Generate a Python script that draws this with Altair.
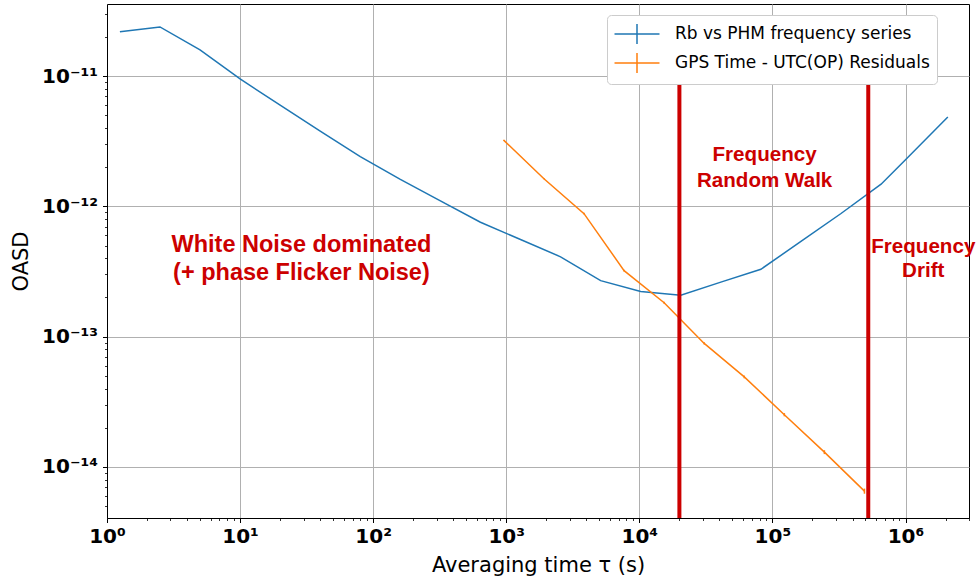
import json
import altair as alt
import pandas as pd

# ---------------- data ----------------
blue_name = "Rb vs PHM frequency series"
orange_name = "GPS Time - UTC(OP) Residuals"

blue_tau = [1.25, 2.5, 5, 10, 20, 40, 80, 160, 320, 640, 1280, 2560, 5120,
            10240, 20480, 40960, 81920, 163840, 327680, 655360, 1.0e6, 2.08e6]
blue_oasd = [2.19e-11, 2.38e-11, 1.59e-11, 9.5e-12, 5.97e-12, 3.77e-12, 2.41e-12,
             1.61e-12, 1.10e-12, 7.55e-13, 5.57e-13, 4.10e-13, 2.69e-13, 2.22e-13,
             2.08e-13, 2.62e-13, 3.29e-13, 5.38e-13, 8.81e-13, 1.48e-12, 2.28e-12,
             4.84e-12]

orange_tau = [960, 1920, 3840, 7680, 15360, 30720, 61440, 122880, 245760, 491520]
orange_oasd = [3.21e-12, 1.63e-12, 8.79e-13, 3.21e-13, 1.82e-13, 8.87e-14, 4.91e-14,
               2.52e-14, 1.30e-14, 6.53e-15]
orange_relerr = [0.010, 0.012, 0.014, 0.016, 0.018, 0.020, 0.024, 0.028, 0.034, 0.045]

regime_tau = [2.0e4, 5.25e5]
regime_top = 8.93e-12

notes_text = ["White Noise dominated\n(+ phase Flicker Noise)",
              "Frequency\nRandom Walk",
              "Frequency\nDrift"]
notes_tau = [28.9, 87360, 1.36e6]
notes_y = [4.49e-13, 2.21e-12, 4.36e-13]
notes_size = [23.5, 20.6, 20.6]
notes_lh = [28.5, 25.6, 24.0]

x_domain = [1, 3.0e6]
y_domain = [4.06e-15, 3.57e-11]

x_ticks = [1, 10, 100, 1e3, 1e4, 1e5, 1e6]
x_tick_labels = ["10⁰", "10¹", "10²", "10³", "10⁴", "10⁵", "10⁶"]
y_ticks = [1e-14, 1e-13, 1e-12, 1e-11]
y_tick_labels = ["10⁻¹⁴", "10⁻¹³", "10⁻¹²", "10⁻¹¹"]

x_minor = [m * 10 ** e for e in range(0, 6) for m in range(2, 10)] + [2e6, 3e6]
y_minor = ([m * 1e-15 for m in range(5, 10)] +
           [m * 10.0 ** e for e in (-14, -13, -12) for m in range(2, 10)] +
           [2e-11, 3e-11])

# ---------------- frames ----------------
lines_df = pd.DataFrame({
    "tau": blue_tau + orange_tau,
    "oasd": blue_oasd + orange_oasd,
    "series": [blue_name] * len(blue_tau) + [orange_name] * len(orange_tau),
})
err_df = pd.DataFrame({
    "tau": orange_tau,
    "lo": [v * (1 - e) for v, e in zip(orange_oasd, orange_relerr)],
    "hi": [v * (1 + e) for v, e in zip(orange_oasd, orange_relerr)],
})
regime_df = pd.DataFrame({"tau": regime_tau,
                          "lo": [y_domain[0]] * len(regime_tau),
                          "hi": [regime_top] * len(regime_tau)})

xscale = alt.Scale(type="log", domain=x_domain, nice=False)
yscale = alt.Scale(type="log", domain=y_domain, nice=False)

FONT = "DejaVu Sans"
RED = "#cc0000"

x_label_expr = json.dumps(x_tick_labels, ensure_ascii=False) + "[round(log(datum.value)/LN10)]"
y_label_expr = json.dumps(y_tick_labels, ensure_ascii=False) + "[round(log(datum.value)/LN10)+14]"

x_axis = alt.Axis(values=x_ticks, labelExpr=x_label_expr, grid=True, gridColor="#b0b0b0",
                  gridWidth=1, tickSize=4.5, tickColor="black", tickWidth=1,
                  domainColor="black", labelFont=FONT, labelFontSize=20,
                  labelFontWeight="bold", labelColor="black", labelPadding=20,
                  labelBaseline="alphabetic", labelOverlap=False, labelFlush=False,
                  title="Averaging time τ (s)", titleFont=FONT, titleFontSize=21,
                  titleFontWeight="normal", titleColor="black", titleX=431, titleY=53,
                  titleBaseline="alphabetic", titleAlign="center", orient="bottom")
y_axis = alt.Axis(values=y_ticks, labelExpr=y_label_expr, grid=True, gridColor="#b0b0b0",
                  gridWidth=1, tickSize=4.5, tickColor="black", tickWidth=1,
                  domainColor="black", labelFont=FONT, labelFontSize=20,
                  labelFontWeight="bold", labelColor="black", labelPadding=5,
                  labelOverlap=False, labelFlush=False, labelBaseline="middle",
                  title="OASD", titleFont=FONT, titleFontSize=21, titleFontWeight="normal",
                  titleColor="black", titleX=-80, titleY=257, titleAngle=270,
                  titleBaseline="alphabetic", titleAlign="center", orient="left")

legend = alt.Legend(title=None, orient="none", legendX=500, legendY=11,
                    fillColor="white", strokeColor="#cccccc", cornerRadius=4,
                    padding=7, labelFont=FONT, labelFontSize=17, labelColor="black",
                    labelLimit=0,
                    symbolType="M-2,0H2M0,-0.9V0.9", symbolSize=506,
                    symbolStrokeWidth=1.5, symbolFillColor="transparent",
                    symbolOffset=11, labelOffset=26, rowPadding=1)

lines = alt.Chart(lines_df).mark_line(strokeWidth=1.5).encode(
    x=alt.X("tau:Q", scale=xscale, axis=x_axis),
    y=alt.Y("oasd:Q", scale=yscale, axis=y_axis),
    color=alt.Color("series:N",
                    scale=alt.Scale(domain=[blue_name, orange_name],
                                    range=["#1f77b4", "#ff7f0e"]),
                    legend=legend),
    detail="series:N",
)

minor = alt.Chart(lines_df).mark_point(opacity=0).encode(
    x=alt.X("tau:Q", scale=xscale,
            axis=alt.Axis(values=x_minor, labels=False, grid=False, domain=False,
                          tickSize=2.5, tickColor="black", tickWidth=0.8,
                          title=None, orient="bottom")),
    y=alt.Y("oasd:Q", scale=yscale,
            axis=alt.Axis(values=y_minor, labels=False, grid=False, domain=False,
                          tickSize=2.5, tickColor="black", tickWidth=0.8,
                          title=None, orient="left")),
)

errbars = alt.Chart(err_df).mark_rule(color="#ff7f0e", strokeWidth=1.5).encode(
    x=alt.X("tau:Q", scale=xscale, axis=None),
    y=alt.Y("lo:Q", scale=yscale, axis=None),
    y2="hi:Q",
)

regimes = alt.Chart(regime_df).mark_rule(color=RED, strokeWidth=4).encode(
    x=alt.X("tau:Q", scale=xscale, axis=None),
    y=alt.Y("lo:Q", scale=yscale, axis=None),
    y2="hi:Q",
)

note_layers = []
for txt, t, yv, sz, lh in zip(notes_text, notes_tau, notes_y, notes_size, notes_lh):
    ndf = pd.DataFrame({"text": [txt], "tau": [t], "y": [yv]})
    note_layers.append(
        alt.Chart(ndf).mark_text(font="Liberation Sans", fontWeight="bold",
                                 color=RED, align="center", fontSize=sz,
                                 lineHeight=lh, baseline="alphabetic",
                                 lineBreak="\n").encode(
            x=alt.X("tau:Q", scale=xscale, axis=None),
            y=alt.Y("y:Q", scale=yscale, axis=None),
            text="text:N",
        )
    )

chart = alt.layer(lines, errbars, regimes, *note_layers, minor).resolve_axis(
    x="independent", y="independent"
).properties(
    width=862, height=514,
    autosize=alt.AutoSizeParams(type="none"),
    padding={"left": 107, "top": 4, "right": 7, "bottom": 63},
    background="white",
).configure_view(stroke="black", strokeWidth=1)

chart.save("out.html", embed_options={"renderer": "svg", "actions": False})
